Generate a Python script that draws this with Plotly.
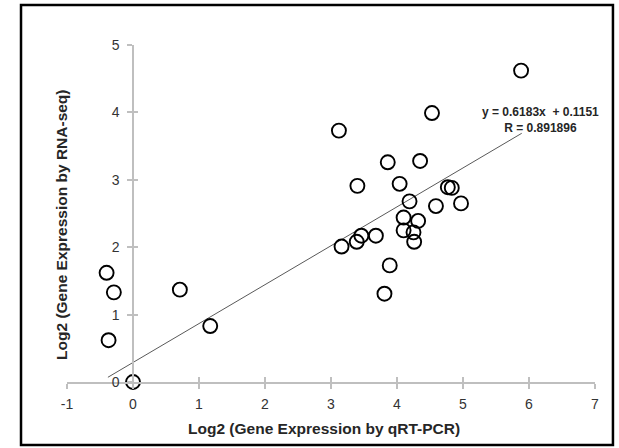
import plotly.graph_objects as go

qrt_pcr = [5.88, 4.53, 3.12, 3.86, 4.35, 3.40, 4.04, 4.77, 4.83, 4.19,
           4.59, 4.97, 4.10, 4.32, 4.10, 4.25, 4.26, 3.68, 3.46, 3.39,
           3.16, 3.89, 3.81, -0.40, -0.29, 0.71, 1.17, -0.37, 0.0]
rna_seq = [4.62, 3.99, 3.73, 3.26, 3.28, 2.91, 2.94, 2.89, 2.88, 2.68,
           2.61, 2.65, 2.44, 2.39, 2.25, 2.22, 2.08, 2.17, 2.17, 2.08,
           2.01, 1.73, 1.31, 1.62, 1.33, 1.37, 0.83, 0.62, 0.0]
trend_x = [-0.38, 5.89]
trend_y = [0.07, 3.69]
eq_lines = ["y = 0.6183x  + 0.1151", "R = 0.891896"]
x_ticks = [-1, 0, 1, 2, 3, 4, 5, 6, 7]
x_tick_labels = ["-1", "0", "1", "2", "3", "4", "5", "6", "7"]
y_ticks = [0, 1, 2, 3, 4, 5]
x_title = "Log2 (Gene Expression by qRT-PCR)"
y_title = "Log2 (Gene Expression by RNA-seq)"

FONT = "Liberation Sans, Arial, sans-serif"
AX = "#bfbfbf"
TXT = "#262626"
TICK = "#333333"

fig = go.Figure()
fig.add_trace(go.Scatter(x=trend_x, y=trend_y, mode="lines",
                         line=dict(color="#595959", width=1), hoverinfo="skip"))
fig.add_trace(go.Scatter(x=qrt_pcr, y=rna_seq, mode="markers",
                         marker=dict(symbol="circle-open", size=14,
                                     color="black", line=dict(width=1.9)),
                         cliponaxis=False))
# inside half of crossing tick marks
fig.add_trace(go.Scatter(x=[None], y=[None], xaxis="x2", yaxis="y2",
                         showlegend=False))

fig.update_layout(
    width=619, height=448,
    margin=dict(l=67, r=24, t=45, b=66),
    paper_bgcolor="white", plot_bgcolor="white",
    showlegend=False,
    font=dict(family=FONT, size=14, color=TICK),
    xaxis=dict(range=[-1, 7], tickvals=x_ticks, ticktext=x_tick_labels,
               showgrid=False, zeroline=False,
               showline=True, linecolor=AX, linewidth=1.5,
               ticks="outside", ticklen=5, tickcolor=AX, tickwidth=1.5,
               ticklabelstandoff=3,
               tickfont=dict(size=14, color=TICK)),
    yaxis=dict(range=[0, 5], tickvals=y_ticks, showgrid=False, zeroline=False,
               showline=True, linecolor=AX, linewidth=1.5,
               anchor="free", position=0.125,
               ticks="outside", ticklen=5, tickcolor=AX, tickwidth=1.5,
               ticklabelstandoff=5,
               tickfont=dict(size=14, color=TICK)),
    xaxis2=dict(range=[-1, 7], tickvals=x_ticks, overlaying="x", anchor="y2",
                showgrid=False, zeroline=False, showline=False,
                ticks="inside", ticklen=5, tickcolor=AX, tickwidth=1.5,
                showticklabels=False),
    yaxis2=dict(range=[0, 5], tickvals=y_ticks, overlaying="y", anchor="free",
                position=0.125, showgrid=False, zeroline=False, showline=False,
                ticks="inside", ticklen=4, tickcolor=AX, tickwidth=1.5,
                showticklabels=False),
    annotations=[
        dict(text="<br>".join(f"<b>{s}</b>" for s in eq_lines),
             x=6.18, y=3.64, xref="x", yref="y",
             xanchor="center", yanchor="bottom", showarrow=False, align="center",
             font=dict(family=FONT, size=12, color=TXT)),
        dict(text=f"<b>{y_title}</b>", textangle=-90,
             xref="paper", yref="paper", x=-0.0095, y=0.466,
             xanchor="center", yanchor="middle", showarrow=False,
             font=dict(family=FONT, size=15.5, color=TXT)),
        dict(text=f"<b>{x_title}</b>",
             xref="paper", yref="paper", x=0.487, y=-0.139,
             xanchor="center", yanchor="middle", showarrow=False,
             font=dict(family=FONT, size=15.5, color=TXT)),
    ],
    shapes=[dict(type="rect", xref="paper", yref="paper",
                 x0=-0.0871, x1=1.034, y0=-0.187, y1=1.1187,
                 line=dict(color="black", width=2.5))],
)

fig.write_html("out.html", config={"displayModeBar": False},
               post_script="document.body.style.margin='0';")
